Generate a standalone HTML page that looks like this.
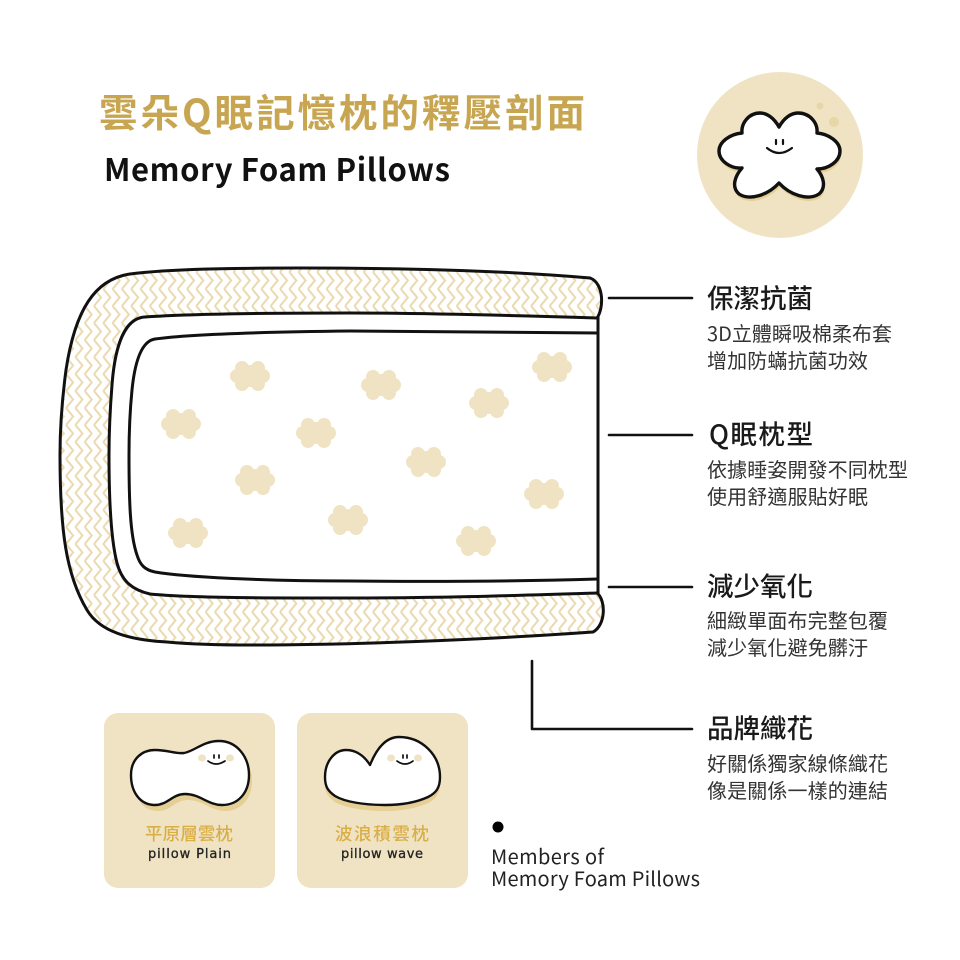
<!DOCTYPE html>
<html><head><meta charset="utf-8">
<style>
html,body{margin:0;padding:0;background:#fff}
svg{display:block}
text{font-family:"Liberation Sans","Noto Sans CJK TC",sans-serif}
.cjk{font-family:"Noto Sans CJK TC","Liberation Sans",sans-serif}
.h{font-size:26.5px;font-weight:500;fill:#1a1a1a}
.s{font-size:20px;fill:#333}
.en{font-size:20px;fill:#222}
.hand{font-size:13px;fill:#222;stroke:#222;stroke-width:.3;font-family:"DejaVu Sans",sans-serif}
.cl{font-size:17.5px;font-weight:500;fill:#d9ae45}
.k{fill:none;stroke:#111;stroke-width:3;stroke-linecap:round;stroke-linejoin:round}
</style></head>
<body>
<svg width="960" height="960" viewBox="0 0 960 960" xmlns="http://www.w3.org/2000/svg">
<defs>
<pattern id="zz" width="9.3" height="17" patternUnits="userSpaceOnUse">
<path d="M1,0 L8,8.5 L1,17" fill="none" stroke="#ead9ae" stroke-width="2"/>
</pattern>
<g id="c"><g fill="#efe3c3">
<circle cx="-8" cy="-8" r="7"/><circle cx="8" cy="-8" r="7"/><circle cx="-13" cy="0" r="7"/><circle cx="13" cy="0" r="7"/><circle cx="-8" cy="8" r="7"/><circle cx="8" cy="8" r="7"/><ellipse cx="0" cy="0" rx="15" ry="11"/></g></g>
</defs>

<text x="99" y="127" class="cjk" font-size="38.5" font-weight="700" fill="#c8a550" textLength="486">雲朵Q眠記憶枕的釋壓剖面</text>
<text x="104" y="181" class="cjk" font-size="31" font-weight="700" fill="#111" textLength="346">Memory Foam Pillows</text>

<circle cx="780" cy="155" r="83" fill="#efe3c3"/>
<circle cx="820" cy="106" r="3.5" fill="#e6d6a8"/><circle cx="834" cy="122" r="5" fill="#e6d6a8"/>
<path transform="translate(1,4)" fill="#e5cf95" d="M779,127 C774,118 767,113 760,113 C749,113 741,123 742,133 C730,134 719,142 719,151 C719,161 731,169 742,168 C735,176 731,187 739,194 C750,201 768,195 779,183 C790,195 808,201 819,194 C827,187 823,176 817,169 C829,169 840,161 840,151 C840,142 829,134 817,133 C818,123 810,113 798,113 C791,113 784,118 779,127Z"/>
<path class="k" style="fill:#fff;stroke-width:3.4" d="M779,127 C774,118 767,113 760,113 C749,113 741,123 742,133 C730,134 719,142 719,151 C719,161 731,169 742,168 C735,176 731,187 739,194 C750,201 768,195 779,183 C790,195 808,201 819,194 C827,187 823,176 817,169 C829,169 840,161 840,151 C840,142 829,134 817,133 C818,123 810,113 798,113 C791,113 784,118 779,127Z"/>
<path class="k" style="stroke-width:2.2" d="M776,140V144M783,140V144M767,148Q779,158 792,148"/>

<!-- pillow -->
<path fill="url(#zz)" d="M590,278 C510,271 420,268 300,268 C230,268 170,269 130,274 C95,279 75,310 66,370 C62,400 60,430 60,455 C60,530 66,575 87,610 C100,632 130,640 167,642 C200,645 230,645 250,645 C350,645 480,640 593,632 C606,625 606,600 597,593 C530,595 450,598 350,598 C270,598 190,598 150,594 C133,590 122,582 117,563 C111,540 109,500 109,455 C109,430 110,410 112,385 C115,345 125,318 145,317 C190,314 280,313 350,313 C420,313 500,315 597,318 C604,308 604,283 590,278Z"/>
<path class="k" d="M590,278 C510,271 420,268 300,268 C230,268 170,269 130,274 C95,279 75,310 66,370 C62,400 60,430 60,455 C60,530 66,575 87,610 C100,632 130,640 167,642 C200,645 230,645 250,645 C350,645 480,640 593,632 C606,625 606,600 597,593"/>
<path class="k" d="M590,278 C604,283 604,308 597,318 C500,315 420,313 350,313 C280,313 190,314 145,317 C125,318 115,345 112,385 C110,410 109,430 109,455 C109,500 111,540 117,563 C122,582 133,590 150,594 C190,598 270,598 350,598 C450,598 530,595 597,593"/>
<path class="k" d="M598,317V593"/>
<path class="k" d="M598,333 C500,332 420,331 350,331 C260,332 190,334 155,339 C142,341 135,360 132,390 C130,410 129,430 129,455 C129,500 130,535 137,555 C140,565 145,570 155,572 C185,577 260,581 350,581 C450,582 530,581 598,579"/>

<use href="#c" x="250" y="376"/><use href="#c" x="381" y="385"/><use href="#c" x="552" y="367"/><use href="#c" x="489" y="403"/>
<use href="#c" x="181" y="424"/><use href="#c" x="316" y="433"/><use href="#c" x="426" y="462"/><use href="#c" x="255" y="480"/>
<use href="#c" x="544" y="494"/><use href="#c" x="348" y="520"/><use href="#c" x="188" y="533"/><use href="#c" x="476" y="541"/>

<!-- leaders -->
<path class="k" stroke-linecap="butt" d="M609,298H692M609,435H692M609,587H692M532,661V729H692" style="stroke-width:2.6"/>

<!-- right labels -->
<text x="707" y="308" class="cjk h" textLength="106">保潔抗菌</text>
<text x="707" y="341" class="cjk s" textLength="185">3D立體瞬吸棉柔布套</text>
<text x="707" y="368" class="cjk s" textLength="161">增加防蟎抗菌功效</text>
<text x="709" y="444" class="cjk h" textLength="104">Q眠枕型</text>
<text x="707" y="477" class="cjk s" textLength="201">依據睡姿開發不同枕型</text>
<text x="707" y="504" class="cjk s" textLength="161">使用舒適服貼好眠</text>
<text x="707" y="596" class="cjk h" textLength="106">減少氧化</text>
<text x="707" y="628" class="cjk s" textLength="181">細緻單面布完整包覆</text>
<text x="707" y="655" class="cjk s" textLength="161">減少氧化避免髒汙</text>
<text x="707" y="738" class="cjk h" textLength="106">品牌織花</text>
<text x="707" y="771" class="cjk s" textLength="181">好關係獨家線條織花</text>
<text x="707" y="798" class="cjk s" textLength="181">像是關係一樣的連結</text>

<!-- cards -->
<rect x="104" y="713" width="171" height="175" rx="14" fill="#efe3c3"/>
<rect x="297" y="713" width="171" height="175" rx="14" fill="#efe3c3"/>

<path transform="translate(3,6)" fill="#e5cf95" d="M131,775 C131,759 142,750 155,750 C168,750 175,754 184,753 C195,751 203,741 219,741 C237,741 249,757 249,775 C249,793 238,805 222,805 C208,805 200,794 185,794 C172,794 168,805 155,805 C140,805 131,792 131,775Z"/>
<path class="k" style="fill:#fff;stroke-width:2.4" d="M131,775 C131,759 142,750 155,750 C168,750 175,754 184,753 C195,751 203,741 219,741 C237,741 249,757 249,775 C249,793 238,805 222,805 C208,805 200,794 185,794 C172,794 168,805 155,805 C140,805 131,792 131,775Z"/>
<ellipse cx="202" cy="758" rx="4" ry="3.5" fill="#efe3c3"/><ellipse cx="230" cy="758" rx="4" ry="3.5" fill="#efe3c3"/>
<path class="k" style="stroke-width:1.7" d="M214,755V758M219,755V758M208,761Q216,767 225,761"/>
<text x="145" y="840" class="cjk cl" textLength="88">平原層雲枕</text>
<text x="148" y="858" class="hand" textLength="83">pillow Plain</text>

<path transform="translate(0,6)" fill="#e5cf95" d="M325,777 C325,761 335,750 346,750 C357,750 365,757 370,765 C376,750 385,737 399,737 C422,737 440,755 440,777 C440,788 436,793 428,797 C415,803 400,805 385,805 C365,805 345,802 335,796 C328,791 325,787 325,777Z"/>
<path class="k" style="fill:#fff;stroke-width:2.4" d="M325,777 C325,761 335,750 346,750 C357,750 365,757 370,765 C376,750 385,737 399,737 C422,737 440,755 440,777 C440,788 436,793 428,797 C415,803 400,805 385,805 C365,805 345,802 335,796 C328,791 325,787 325,777Z"/>
<ellipse cx="391" cy="758" rx="4" ry="3.5" fill="#efe3c3"/><ellipse cx="418" cy="758" rx="4" ry="3.5" fill="#efe3c3"/>
<path class="k" style="stroke-width:1.7" d="M403,755V758M407,755V758M397,761Q405,767 413,761"/>
<text x="335" y="840" class="cjk cl" textLength="94">波浪積雲枕</text>
<text x="341" y="858" class="hand" textLength="82">pillow wave</text>

<circle cx="498" cy="827" r="5.5" fill="#000"/>
<text x="491" y="864" class="cjk en" textLength="113">Members of</text>
<text x="491" y="886" class="cjk en" textLength="209">Memory Foam Pillows</text>
</svg>
</body></html>
